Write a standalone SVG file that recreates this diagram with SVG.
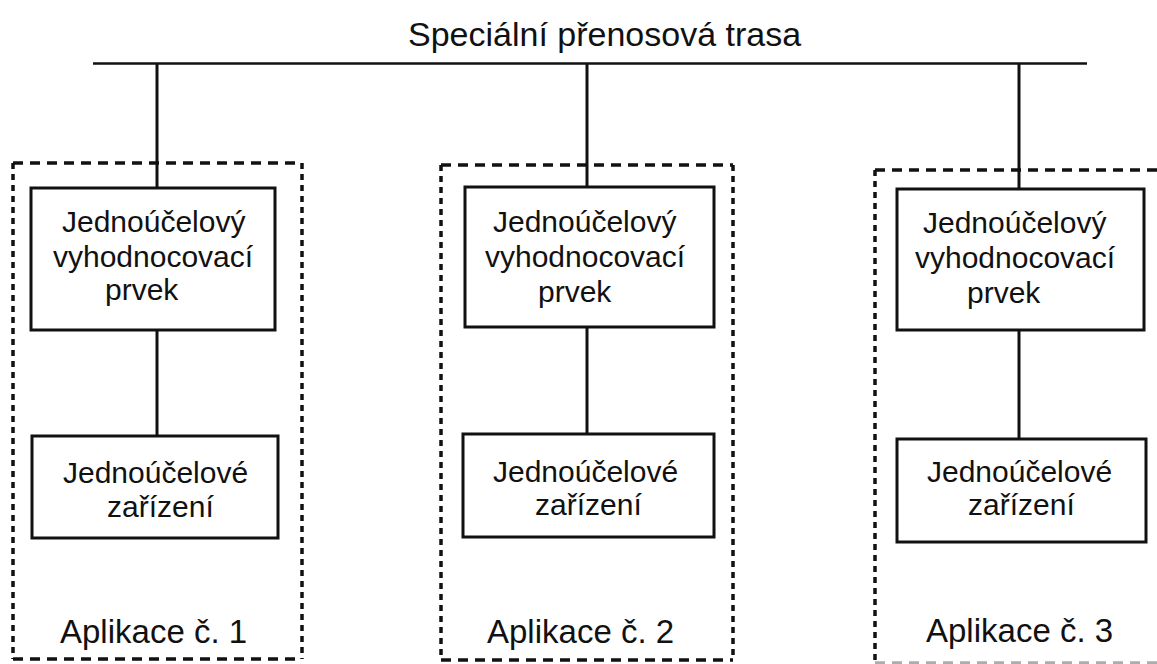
<svg xmlns="http://www.w3.org/2000/svg" width="1157" height="664" viewBox="0 0 1157 664">
  <style>
    .bg { fill: #ffffff; }
    .box { fill: #ffffff; stroke: #111; stroke-width: 3; }
    .wire { fill: none; stroke: #111; stroke-width: 3; }
    .bus { fill: none; stroke: #111; stroke-width: 2.5; }
    .dh { fill: none; stroke: #111; stroke-width: 3.5; stroke-dasharray: 10 7; }
    .dv { fill: none; stroke: #111; stroke-width: 3.5; stroke-dasharray: 6 5; }
    .t { font-family: "Liberation Sans", Arial, sans-serif; fill: #111; }
    .node { font-size: 30px; }
    .app { font-size: 33px; }
    .title { font-size: 34px; }
  </style>

  <rect class="bg" x="0" y="0" width="1157" height="664"/>

  <!-- bus title -->
  <text class="t title" x="408" y="46">Speciální přenosová trasa</text>

  <!-- application frames (dashed) -->
  <g id="app1">
    <line class="dh" x1="13" y1="163" x2="302" y2="163"/>
    <line class="dh" x1="13" y1="659" x2="302" y2="659"/>
    <line class="dv" x1="13" y1="163" x2="13" y2="659"/>
    <line class="dv" x1="302" y1="163" x2="302" y2="659"/>
    <text class="t app" x="60" y="643">Aplikace č. 1</text>
  </g>
  <g id="app2">
    <line class="dh" x1="441" y1="165" x2="733" y2="165"/>
    <line class="dh" x1="441" y1="660" x2="733" y2="660"/>
    <line class="dv" x1="441" y1="165" x2="441" y2="660"/>
    <line class="dv" x1="733" y1="165" x2="733" y2="660"/>
    <text class="t app" x="487" y="643">Aplikace č. 2</text>
  </g>
  <g id="app3">
    <line class="dh" x1="875" y1="170" x2="1160" y2="170"/>
    <line class="dh" x1="875" y1="663" x2="1160" y2="663" stroke-opacity="0.35"/>
    <line class="dv" x1="875" y1="170" x2="875" y2="663"/>
    <text class="t app" x="926" y="642">Aplikace č. 3</text>
  </g>

  <!-- connectors -->
  <g id="connectors">
    <line class="bus" x1="93" y1="63.5" x2="1087" y2="63.5"/>
    <line class="wire" x1="157" y1="63" x2="157" y2="188"/>
    <line class="wire" x1="587" y1="63" x2="587" y2="187"/>
    <line class="wire" x1="1019" y1="63" x2="1019" y2="189"/>
    <line class="wire" x1="157" y1="330" x2="157" y2="436"/>
    <line class="wire" x1="587" y1="327" x2="587" y2="434"/>
    <line class="wire" x1="1019" y1="330" x2="1019" y2="439"/>
  </g>

  <!-- evaluation elements -->
  <g id="eval1">
    <rect class="box" x="31" y="188" width="244" height="142"/>
    <text class="t node" x="62" y="232">Jednoúčelový</text>
    <text class="t node" x="53" y="267">vyhodnocovací</text>
    <text class="t node" x="105" y="300">prvek</text>
  </g>
  <g id="eval2">
    <rect class="box" x="465" y="187" width="249" height="140"/>
    <text class="t node" x="493" y="232">Jednoúčelový</text>
    <text class="t node" x="485" y="267">vyhodnocovací</text>
    <text class="t node" x="538" y="302">prvek</text>
  </g>
  <g id="eval3">
    <rect class="box" x="897" y="189" width="247" height="141"/>
    <text class="t node" x="923" y="233">Jednoúčelový</text>
    <text class="t node" x="915" y="268">vyhodnocovací</text>
    <text class="t node" x="967" y="303">prvek</text>
  </g>

  <!-- devices -->
  <g id="dev1">
    <rect class="box" x="32" y="436" width="246" height="102"/>
    <text class="t node" x="63" y="483">Jednoúčelové</text>
    <text class="t node" x="107" y="517">zařízení</text>
  </g>
  <g id="dev2">
    <rect class="box" x="463" y="434" width="251" height="103"/>
    <text class="t node" x="493" y="482">Jednoúčelové</text>
    <text class="t node" x="535" y="515">zařízení</text>
  </g>
  <g id="dev3">
    <rect class="box" x="897" y="439" width="249" height="103"/>
    <text class="t node" x="927" y="482">Jednoúčelové</text>
    <text class="t node" x="968" y="515">zařízení</text>
  </g>
</svg>
